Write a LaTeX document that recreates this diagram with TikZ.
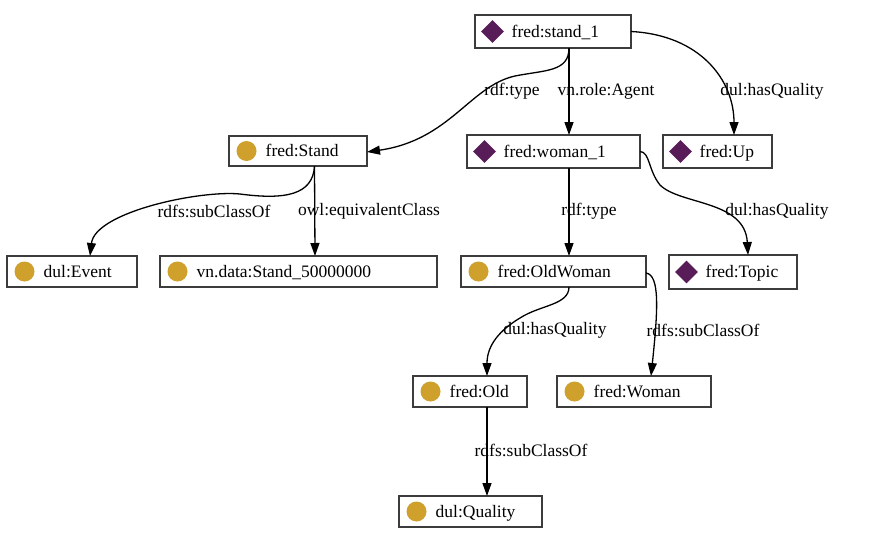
\documentclass[tikz,border=0pt]{standalone}
\usepackage{fontspec}
\setmainfont{Liberation Serif}
\usetikzlibrary{shapes.geometric,arrows.meta}
\definecolor{indpurple}{RGB}{88,28,88}
\definecolor{clsgold}{RGB}{207,160,44}
\definecolor{boxgray}{RGB}{60,60,60}
\newcommand{\gnode}[7]{%
  \node[gbox, minimum width={#4-#2}, minimum height={#5-#3}] (#1) at ({(#2+#4)/2},{(#3+#5)/2}) {};
  \node[#6] (#1-icon) at ([xshift=17.5pt]#1.west) {};
  \node[gtext] (#1-text) at ([xshift=36.5pt,yshift=-5.5pt]#1.west) {#7};
}
\begin{document}
\begin{tikzpicture}[x=1pt,y=-1pt,
  gbox/.style={draw=boxgray, line width=1.4pt, fill=white, inner sep=0pt, outer sep=0pt},
  indicon/.style={diamond, fill=indpurple, minimum size=23pt, inner sep=0pt},
  clsicon/.style={circle, fill=clsgold, minimum size=20pt, inner sep=0pt},
  gtext/.style={anchor=base west, inner sep=0pt, font=\fontsize{17.5}{20}\selectfont},
  elabel/.style={inner sep=0pt, font=\fontsize{17.5}{20}\selectfont},
  edge/.style={line width=1.3pt, -{Triangle[length=13pt,width=9pt]}}
]
\useasboundingbox (0,0) rectangle (879,544);

% nodes
\gnode{stand1}{475}{15}{631}{48}{indicon}{fred:stand\_1}
\gnode{Stand}{229}{136}{367}{166}{clsicon}{fred:Stand}
\gnode{woman1}{467}{135}{640}{168}{indicon}{fred:woman\_1}
\gnode{Up}{663}{135}{772}{168}{indicon}{fred:Up}
\gnode{Event}{7}{256}{137}{287}{clsicon}{dul:Event}
\gnode{Stand5}{160}{256}{437}{287}{clsicon}{vn.data:Stand\_50000000}
\gnode{OldWoman}{461}{256}{646}{287}{clsicon}{fred:OldWoman}
\gnode{Topic}{669}{255}{797}{289}{indicon}{fred:Topic}
\gnode{Old}{413}{376}{527}{407}{clsicon}{fred:Old}
\gnode{Woman}{557}{376}{711}{407}{clsicon}{fred:Woman}
\gnode{Quality}{399}{496}{542}{527}{clsicon}{dul:Quality}

% edges
\draw[edge] ([xshift=16pt]stand1.south) .. controls (569,72) and (545,70) .. (515,76)
   .. controls (470,86) and (450,140) .. ([yshift=-1pt]Stand.east);
\draw[edge] ([xshift=16pt]stand1.south) -- ([xshift=15.5pt]woman1.north);
\draw[edge] (stand1.east) .. controls (700,35) and (734,80) .. ([xshift=16.5pt]Up.north);
\draw[edge] (woman1.east) .. controls (650,152) and (648,170) .. (660,185)
   .. controls (680,205) and (745,200) .. ([xshift=15pt]Topic.north);
\draw[edge] ([xshift=15.5pt]woman1.south) -- ([xshift=15.5pt]OldWoman.north);
\draw[edge] ([yshift=-1.5pt]OldWoman.east) .. controls (660,275) and (658,310) .. ([xshift=17pt]Woman.north);
\draw[edge] ([xshift=15.5pt]OldWoman.south) .. controls (569,305) and (540,305) .. (520,318)
   .. controls (500,330) and (487,345) .. ([xshift=17pt]Old.north);
\draw[edge] ([xshift=17pt]Old.south) -- ([xshift=16.5pt]Quality.north);
\draw[edge] ([xshift=16.5pt]Stand.south) .. controls (313,195) and (285,200) .. (240,194)
   .. controls (200,190) and (95,212) .. ([xshift=18pt]Event.north);
\draw[edge] ([xshift=16.5pt]Stand.south) -- ([xshift=16.5pt]Stand5.north);

% edge labels
\node[elabel] (l1) at (512,91) {rdf:type};
\node[elabel] (l2) at (606,91) {vn.role:Agent};
\node[elabel] (l3) at (772,91) {dul:hasQuality};
\node[elabel] (l4) at (777,211) {dul:hasQuality};
\node[elabel] (l5) at (589,211) {rdf:type};
\node[elabel] (l6) at (214,211) {rdfs:subClassOf};
\node[elabel] (l7) at (369,211) {owl:equivalentClass};
\node[elabel] (l8) at (555,330) {dul:hasQuality};
\node[elabel] (l9) at (703,330) {rdfs:subClassOf};
\node[elabel] (l10) at (531,450) {rdfs:subClassOf};
\end{tikzpicture}
\end{document}
